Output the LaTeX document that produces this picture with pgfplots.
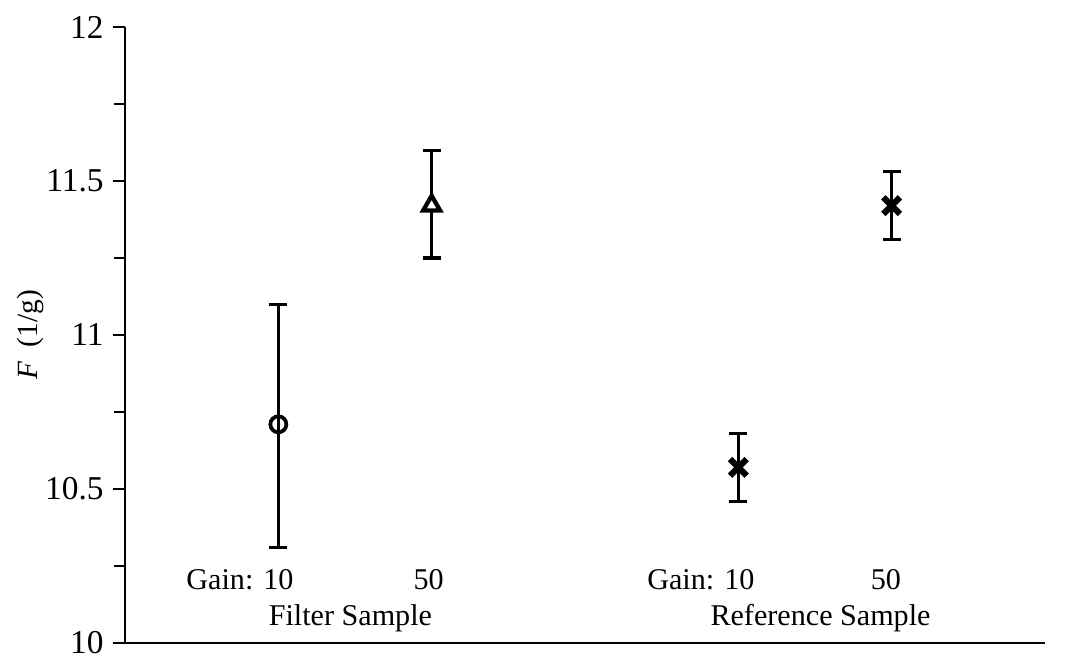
\documentclass[border=0pt]{standalone}
\usepackage{pgfplots}
\pgfplotsset{compat=1.18}
\usepackage{fontspec}
\setmainfont{Liberation Serif}
\begin{document}
\begin{tikzpicture}
\path[use as bounding box] (-46.875pt,-8.25pt) rectangle (354pt,241.125pt);
\begin{axis}[
  scale only axis, width=345pt, height=231pt,
  xmin=0, xmax=10, ymin=10, ymax=12,
  axis x line=bottom, axis y line=left,
  axis line style={-, line width=1.1pt},
  xtick=\empty,
  ytick={10,10.5,11,11.5,12},
  yticklabels={10,10.5,11,11.5,12},
  minor ytick={10.25,10.75,11.25,11.75},
  tick align=outside,
  major tick length=4.5pt, minor tick length=4pt,
  every tick/.style={black, line width=0.9pt},
  tick label style={font=\fontsize{12.5}{14}\selectfont},
  ylabel={\textit{F}\ \ (1/g)},
  ylabel style={at={(axis description cs:-0.103,0.5)}, anchor=center, font=\fontsize{11}{13}\selectfont},
  clip=false,
  error bars/error bar style={line width=1.2pt, black},
  error bars/error mark options={line width=1.2pt, black, mark size=3.4pt, rotate=90},
]
\addplot[only marks, mark=o, mark size=3pt, mark options={fill=white, line width=1.4pt}, black,
  error bars/.cd, y dir=both, y explicit]
  coordinates {(1.667,10.71) += (0,0.39) -= (0,0.40)};
\addplot[only marks, mark=triangle*, mark size=3.7pt, mark options={fill=white, line width=1.6pt}, black,
  error bars/.cd, y dir=both, y explicit]
  coordinates {(3.333,11.42) += (0,0.18) -= (0,0.17)};
\addplot[only marks, mark=x, mark size=4.4pt, mark options={line width=2.3pt}, black,
  error bars/.cd, y dir=both, y explicit]
  coordinates {(6.667,10.57) += (0,0.11) -= (0,0.11)
               (8.333,11.42) += (0,0.11) -= (0,0.11)};
\node[font=\fontsize{11.3}{13}\selectfont] at (axis cs:1.25,10.205) {Gain: 10};
\node[font=\fontsize{11.3}{13}\selectfont] at (axis cs:3.30,10.205) {50};
\node[font=\fontsize{11.3}{13}\selectfont] at (axis cs:2.45,10.08) {Filter Sample};
\node[font=\fontsize{11.3}{13}\selectfont] at (axis cs:6.26,10.205) {Gain: 10};
\node[font=\fontsize{11.3}{13}\selectfont] at (axis cs:8.27,10.205) {50};
\node[font=\fontsize{11.3}{13}\selectfont] at (axis cs:7.56,10.08) {Reference Sample};
\end{axis}
\end{tikzpicture}
\end{document}
